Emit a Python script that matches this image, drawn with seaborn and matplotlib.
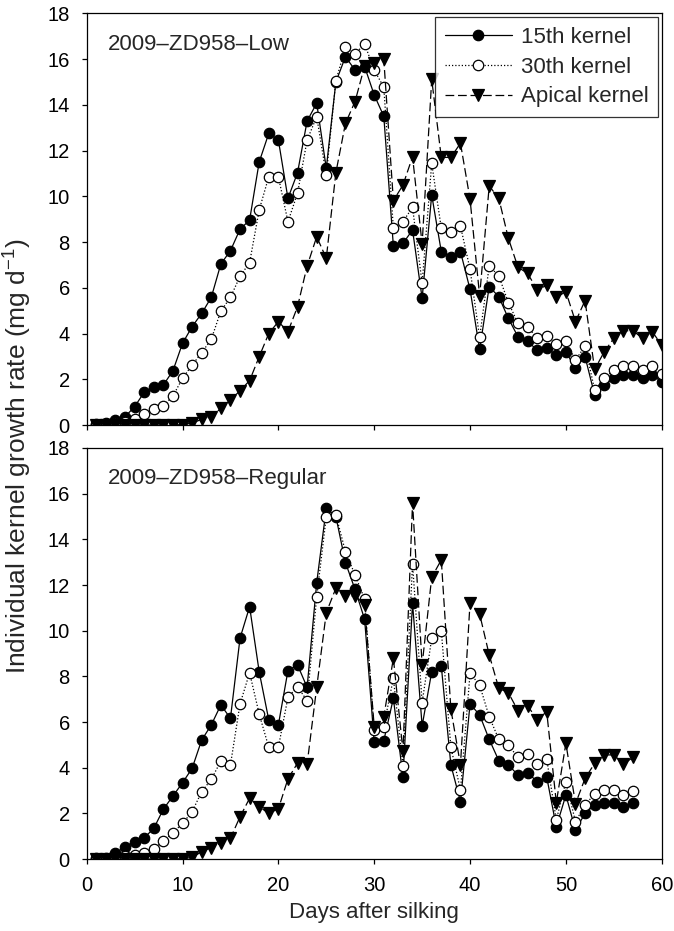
import numpy as np
import pandas as pd
import matplotlib
matplotlib.use("Agg")
import matplotlib.pyplot as plt
import seaborn as sns

# ---------------- data ----------------
days_low = list(range(1, 61))
low_15th = [0.05, 0.1, 0.2, 0.36, 0.8, 1.43, 1.65, 1.75, 2.37, 3.57,
            4.3, 4.88, 5.58, 7.04, 7.62, 8.56, 8.96, 11.5, 12.75, 12.46,
            9.91, 11.03, 13.29, 14.07, 11.22, 15.0, 16.1, 15.52, 15.67, 14.43,
            13.5, 7.83, 7.94, 8.53, 5.54, 10.06, 7.58, 7.36, 7.58, 5.93,
            3.31, 6.05, 5.61, 4.66, 3.86, 3.66, 3.28, 3.35, 3.06, 3.2,
            2.48, 2.99, 1.31, 1.75, 2.04, 2.19, 2.19, 2.04, 2.19, 1.89]
low_30th = [0.02, 0.05, 0.08, 0.15, 0.25, 0.5, 0.69, 0.83, 1.27, 2.04,
            2.62, 3.16, 3.75, 4.98, 5.58, 6.5, 7.1, 9.4, 10.86, 10.86,
            8.89, 10.13, 12.46, 13.48, 10.93, 15.05, 16.51, 16.22, 16.66, 15.52,
            14.77, 8.6, 8.89, 9.52, 6.19, 11.44, 8.6, 8.45, 8.7, 6.81,
            3.83, 6.95, 6.52, 5.35, 4.45, 4.3, 3.81, 3.91, 3.54, 3.69,
            2.84, 3.45, 1.53, 2.04, 2.4, 2.58, 2.58, 2.4, 2.58, 2.23]
low_apical = [0, 0, 0, 0, 0, 0, 0, 0, 0, 0.02,
              0.08, 0.25, 0.36, 0.73, 1.09, 1.5, 1.94, 2.99, 4.0, 4.52,
              4.08, 5.17, 6.95, 8.23, 7.29, 11.03, 13.19, 14.14, 15.7, 15.84,
              15.99, 9.81, 10.49, 11.73, 7.91, 15.11, 11.7, 11.7, 12.32, 9.87,
              5.64, 10.45, 9.91, 8.16, 6.9, 6.63, 5.92, 6.1, 5.58, 5.83,
              4.52, 5.44, 2.43, 3.2, 3.79, 4.12, 4.12, 3.79, 4.08, 3.5]

days_reg = list(range(1, 58))
reg_15th = [0.05, 0.05, 0.25, 0.54, 0.76, 0.93, 1.34, 2.18, 2.76, 3.34,
            3.97, 5.21, 5.87, 6.75, 6.16, 9.67, 11.05, 8.2, 6.09, 5.87,
            8.25, 8.5, 7.52, 12.1, 15.36, 15.0, 12.98, 11.81, 10.5, 5.14,
            5.18, 7.04, 3.6, 11.2, 5.83, 8.2, 8.45, 4.12, 2.51, 6.79,
            6.31, 5.24, 4.31, 4.12, 3.68, 3.78, 3.39, 3.59, 1.41, 2.8,
            1.27, 2.0, 2.37, 2.47, 2.47, 2.29, 2.44]
reg_30th = [0.02, 0.02, 0.05, 0.13, 0.18, 0.25, 0.42, 0.8, 1.15, 1.56,
            2.07, 2.95, 3.49, 4.29, 4.12, 6.79, 8.16, 6.35, 4.89, 4.89,
            7.08, 7.55, 6.93, 11.49, 14.99, 15.07, 13.46, 12.44, 11.38, 5.65,
            5.8, 7.92, 4.07, 12.94, 6.85, 9.67, 10.0, 4.89, 3.02, 8.13,
            7.62, 6.23, 5.24, 4.99, 4.45, 4.58, 4.14, 4.37, 1.71, 3.39,
            1.63, 2.37, 2.85, 3.02, 3.02, 2.8, 2.99]
reg_apical = [0, 0, 0, 0, 0, 0, 0, 0, 0, 0.02,
              0.07, 0.32, 0.5, 0.69, 0.91, 1.85, 2.66, 2.29, 2.0, 2.2,
              3.51, 4.2, 4.16, 7.52, 10.79, 11.86, 11.52, 11.52, 11.13, 5.8,
              6.23, 8.79, 4.72, 15.6, 8.5, 12.34, 13.1, 6.56, 4.12, 11.23,
              10.73, 8.94, 7.48, 7.28, 6.5, 6.72, 6.1, 6.45, 2.47, 5.07,
              2.42, 3.53, 4.19, 4.56, 4.56, 4.16, 4.45]

series_names = ["15th kernel", "30th kernel", "Apical kernel"]
panel_titles = ["2009\u2013ZD958\u2013Low", "2009\u2013ZD958\u2013Regular"]
x_ticks = [0, 10, 20, 30, 40, 50, 60]
y_ticks = [0, 2, 4, 6, 8, 10, 12, 14, 16, 18]

# ---------------- style ----------------
sns.set_style("ticks")
plt.rcParams["font.family"] = ["Liberation Sans", "DejaVu Sans"]
plt.rcParams["mathtext.fontset"] = "custom"
plt.rcParams["mathtext.rm"] = "Liberation Sans"
plt.rcParams["mathtext.it"] = "Liberation Sans:italic"
FS = 16
TICK_FS = 14.5

styles = {
    "15th kernel": dict(marker="o", linestyle="-", markerfacecolor="black",
                        markeredgecolor="black", markersize=7.5),
    "30th kernel": dict(marker="o", linestyle=(0, (1, 1.6)), markerfacecolor="white",
                        markeredgecolor="black", markersize=7.5),
    "Apical kernel": dict(marker="v", linestyle=(0, (7, 3)), markerfacecolor="black",
                          markeredgecolor="black", markersize=8),
}

fig = plt.figure(figsize=(6.74, 9.31), dpi=100)
left, width = 0.1286, 0.8532
ax_top = fig.add_axes([left, 0.5435, width, 0.4422])
ax_bot = fig.add_axes([left, 0.0773, width, 0.4415])

panels = [
    (ax_top, days_low, [low_15th, low_30th, low_apical]),
    (ax_bot, days_reg, [reg_15th, reg_30th, reg_apical]),
]

for i, (ax, days, vals) in enumerate(panels):
    for name, v in zip(series_names, vals):
        df = pd.DataFrame({"day": days, "rate": v})
        sns.lineplot(data=df, x="day", y="rate", ax=ax, color="black",
                     linewidth=0.9, markeredgewidth=0.9, label=name,
                     legend=False, **styles[name])
    ax.set_xlim(0, 60)
    ax.set_ylim(0, 18)
    ax.set_xticks(x_ticks)
    ax.set_yticks(y_ticks)
    ax.tick_params(direction="out", length=3.6, width=0.9, labelsize=TICK_FS,
                   colors="black", pad=8.5)
    for s in ax.spines.values():
        s.set_visible(True)
        s.set_linewidth(0.9)
        s.set_color("black")
    ax.set_xlabel("")
    ax.set_ylabel("")
    ax.text(0.037, 0.925, panel_titles[i], transform=ax.transAxes,
            fontsize=FS, va="center", ha="left")

ax_top.tick_params(labelbottom=False)
ax_bot.set_xlabel("Days after silking", fontsize=FS, labelpad=5)

leg = ax_top.legend(loc="upper right", fontsize=FS, frameon=True,
                    fancybox=False, edgecolor="black", handlelength=3.0,
                    borderaxespad=0.15, borderpad=0.45, labelspacing=0.4,
                    handletextpad=0.4)
leg.get_frame().set_linewidth(0.9)

fig.text(0.026, 0.51, "Individual kernel growth rate (mg d$^{-1}$)",
         rotation=90, fontsize=19, va="center", ha="center")

fig.savefig("out.png", dpi=100)
